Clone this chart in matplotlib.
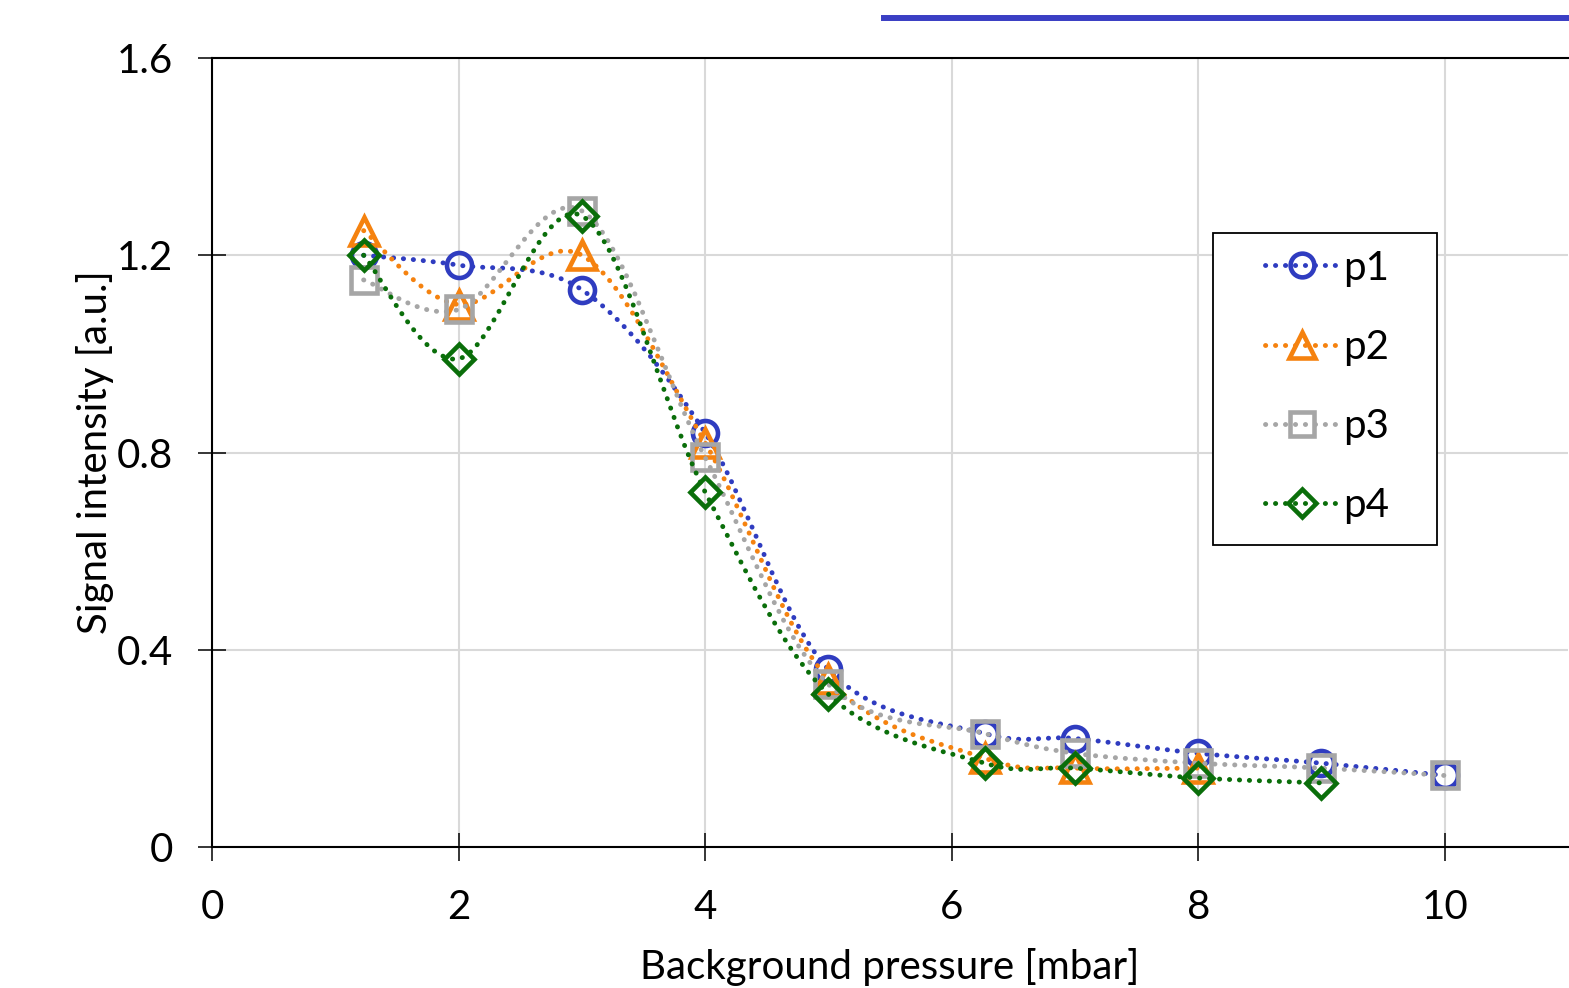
import numpy as np
import matplotlib
matplotlib.use("Agg")
import matplotlib.pyplot as plt
from matplotlib.path import Path
from matplotlib.patches import PathPatch, Rectangle
from matplotlib.lines import Line2D

plt.rcParams['font.family'] = ['Lato', 'DejaVu Sans']

# background pressure [mbar]
x_all = [1.23, 2, 3, 4, 5, 6.27, 7, 8, 9, 10]

p1 = [1.20, 1.18, 1.13, 0.84, 0.36, 0.23, 0.22, 0.19, 0.17, 0.145]
p2 = [1.25, 1.10, 1.20, 0.82, 0.34, 0.18, 0.16, 0.16]
p3 = [1.15, 1.09, 1.29, 0.79, 0.33, 0.23, 0.19, 0.17, 0.16, 0.145]
p4 = [1.20, 0.99, 1.28, 0.72, 0.31, 0.17, 0.16, 0.14, 0.13]

names = ['p1', 'p2', 'p3', 'p4']
series = [p1, p2, p3, p4]
colors = ['#2F3CC0', '#F5820F', '#A6A6A6', '#0A6E0A']
markers = ['o', '^', 's', 'D']
msizes = [18, 20, 18.5, 15.5]
dots = (0, (0.05, 2.0))


def smooth_path(xs, ys):
    # excel-like smoothed line as cubic bezier segments
    pts = np.column_stack([xs, ys])
    n = len(pts)
    verts = [pts[0]]
    codes = [Path.MOVETO]
    for i in range(n - 1):
        p0 = pts[i - 1] if i > 0 else pts[i]
        pa = pts[i]
        pb = pts[i + 1]
        p3_ = pts[i + 2] if i + 2 < n else pts[i + 1]
        c1 = pa + (pb - p0) / 6.0
        c2 = pb - (p3_ - pa) / 6.0
        verts += [c1, c2, pb]
        codes += [Path.CURVE4] * 3
    return Path(verts, codes)


fig = plt.figure(figsize=(15.69, 9.88), dpi=100)
ax = fig.add_axes([0.13512, 0.14271, 0.86425, 0.79858])

for i, (nm, ys, c, m, ms) in enumerate(zip(names, series, colors, markers, msizes)):
    xs = x_all[:len(ys)]
    patch = PathPatch(smooth_path(xs, ys), facecolor='none', edgecolor=c,
                      lw=3.5, linestyle=dots, capstyle='round', zorder=3 + i)
    ax.add_patch(patch)
    ax.plot(xs, ys, linestyle='none', marker=m, ms=ms, mfc='none', mec=c,
            mew=3.3, zorder=3 + i)

ax.set_xlim(0, 11)
ax.set_ylim(0, 1.6)
ax.set_xticks([0, 2, 4, 6, 8, 10])
ax.set_yticks([0, 0.4, 0.8, 1.2, 1.6])
ax.set_yticklabels(['0', '0.4', '0.8', '1.2', '1.6'])
ax.grid(True, color='#D9D9D9', lw=1.5, zorder=0)
ax.set_axisbelow(True)

ax.spines['right'].set_visible(False)
for s in ['left', 'bottom', 'top']:
    ax.spines[s].set_linewidth(1.5)
ax.tick_params(axis='both', direction='inout', length=20, width=1.1, labelsize=29)
ax.tick_params(axis='x', pad=20)
ax.tick_params(axis='y', pad=18)

ax.set_xlabel('Background pressure [mbar]', fontsize=29, labelpad=16)
ax.set_ylabel('Signal intensity [a.u.]', fontsize=29, labelpad=2)

# legend box
ax.add_patch(Rectangle((0.738, 0.3828), 0.1652, 0.3954, transform=ax.transAxes,
                       facecolor='white', edgecolor='black', lw=1.3, zorder=10))
handles = [Line2D([], [], color=c, lw=3.5, linestyle=dots,
                  dash_capstyle='round', marker=m, ms=ms * 0.95, mfc='none',
                  mec=c, mew=3.3)
           for c, m, ms in zip(colors, markers, msizes)]
leg = ax.legend(handles, names, loc='center left', bbox_to_anchor=(0.7766, 0.583),
                frameon=False, borderpad=0, borderaxespad=0, fontsize=29,
                handlelength=1.85, handletextpad=0.1, labelspacing=1.05)
leg.set_zorder(11)

# stray blue line at the top of the image
fig.add_artist(Line2D([0.5634, 1.0], [0.9818, 0.9818], transform=fig.transFigure,
                      color='#3A3FC4', lw=4.3))

fig.savefig('out.png', dpi=100)
